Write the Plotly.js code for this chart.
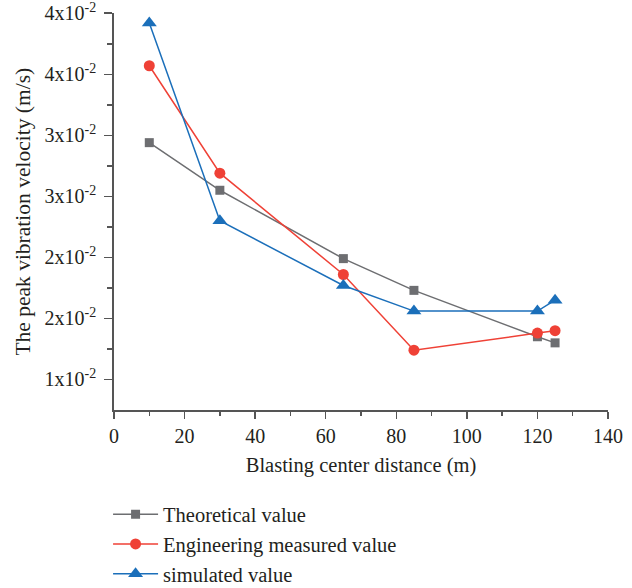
<!DOCTYPE html>
<html>
<head>
<meta charset="utf-8">
<script src="https://cdn.plot.ly/plotly-3.0.1.min.js"></script>
<style>html,body{margin:0;padding:0;background:#fff;}#chart{width:632px;height:588px;}</style>
</head>
<body>
<div id="chart"></div>
<script>
var distance = [10, 30, 65, 85, 120, 125];
var theoretical = [0.0294, 0.0255, 0.0199, 0.0173, 0.0135, 0.0130];
var measured = [0.0357, 0.0269, 0.0186, 0.0124, 0.0138, 0.0140];
var simulated = [0.0392, 0.0230, 0.0177, 0.0156, 0.0156, 0.0165];
var seriesNames = ["Theoretical value", "Engineering measured value", "simulated value"];
var xTickVals = [0, 20, 40, 60, 80, 100, 120, 140];
var xMinorVals = [10, 30, 50, 70, 90, 110, 130];
var yTickVals = [0.01, 0.015, 0.02, 0.025, 0.03, 0.035, 0.04];
var yTickText = ["1x10<sup>-2</sup>", "2x10<sup>-2</sup>", "2x10<sup>-2</sup>", "3x10<sup>-2</sup>", "3x10<sup>-2</sup>", "4x10<sup>-2</sup>", "4x10<sup>-2</sup>"];
var yMinorVals = [0.0125, 0.0175, 0.0225, 0.0275, 0.0325, 0.0375];

var serif = "Liberation Serif, Times New Roman, serif";
var textColor = "#231f20";
var traces = [
  {x: distance, y: theoretical, name: seriesNames[0], mode: "lines+markers", legendgroup: "a",
   line: {color: "#6d6e71", width: 1.5}, marker: {symbol: "square", size: 9, color: "#6d6e71"}},
  {x: distance, y: measured, name: seriesNames[1], mode: "lines+markers", legendgroup: "b",
   line: {color: "#ef4136", width: 1.5}, marker: {symbol: "circle", size: 11, color: "#ef4136"}},
  {x: distance, y: simulated, name: seriesNames[2], mode: "lines+markers", legendgroup: "c",
   line: {color: "#1b6fba", width: 1.5}, marker: {symbol: "triangle-up", size: 13, color: "#1b6fba"}}
];

var layout = {
  width: 632, height: 588,
  margin: {l: 114, r: 24, t: 13, b: 178},
  paper_bgcolor: "#fff", plot_bgcolor: "#fff",
  font: {family: serif, size: 20, color: textColor},
  showlegend: true,
  legend: {xref: "paper", yref: "container", x: -0.012, xanchor: "left", y: 0.159, yanchor: "top",
    traceorder: "grouped", tracegroupgap: 0, itemwidth: 45,
    font: {family: serif, size: 20.5, color: textColor}, bgcolor: "rgba(0,0,0,0)"},
  xaxis: {
    range: [0, 140], tickmode: "array", tickvals: xTickVals, ticks: "outside", ticklen: 7,
    tickwidth: 1.5, tickcolor: "#555", showline: true, linecolor: "#555", linewidth: 1.8,
    showgrid: false, zeroline: false,
    minor: {tickvals: xMinorVals, ticks: "outside", ticklen: 4, tickwidth: 1.5, tickcolor: "#555", showgrid: false},
    title: {text: "Blasting center distance (m)", standoff: 12, font: {family: serif, size: 20.5, color: textColor}},
    tickfont: {family: serif, size: 20, color: textColor}
  },
  yaxis: {
    range: [0.0075, 0.04002], tickmode: "array", tickvals: yTickVals, ticktext: yTickText,
    ticks: "outside", ticklen: 8, tickwidth: 1.5, tickcolor: "#555", showline: true, linecolor: "#555",
    linewidth: 1.8, showgrid: false, zeroline: false, ticklabeloverflow: "allow", ticklabelstandoff: 4,
    minor: {tickvals: yMinorVals, ticks: "outside", ticklen: 5, tickwidth: 1.5, tickcolor: "#555", showgrid: false},
    tickfont: {family: serif, size: 20, color: textColor}
  },
  annotations: [{
    text: "The peak vibration velocity (m/s)", textangle: -90, showarrow: false,
    xref: "paper", yref: "paper", x: -0.186, xanchor: "center", y: 0.5, yanchor: "middle",
    font: {family: serif, size: 21.5, color: textColor}
  }]
};

Plotly.newPlot("chart", traces, layout, {displayModeBar: false, staticPlot: true});
</script>
</body>
</html>
